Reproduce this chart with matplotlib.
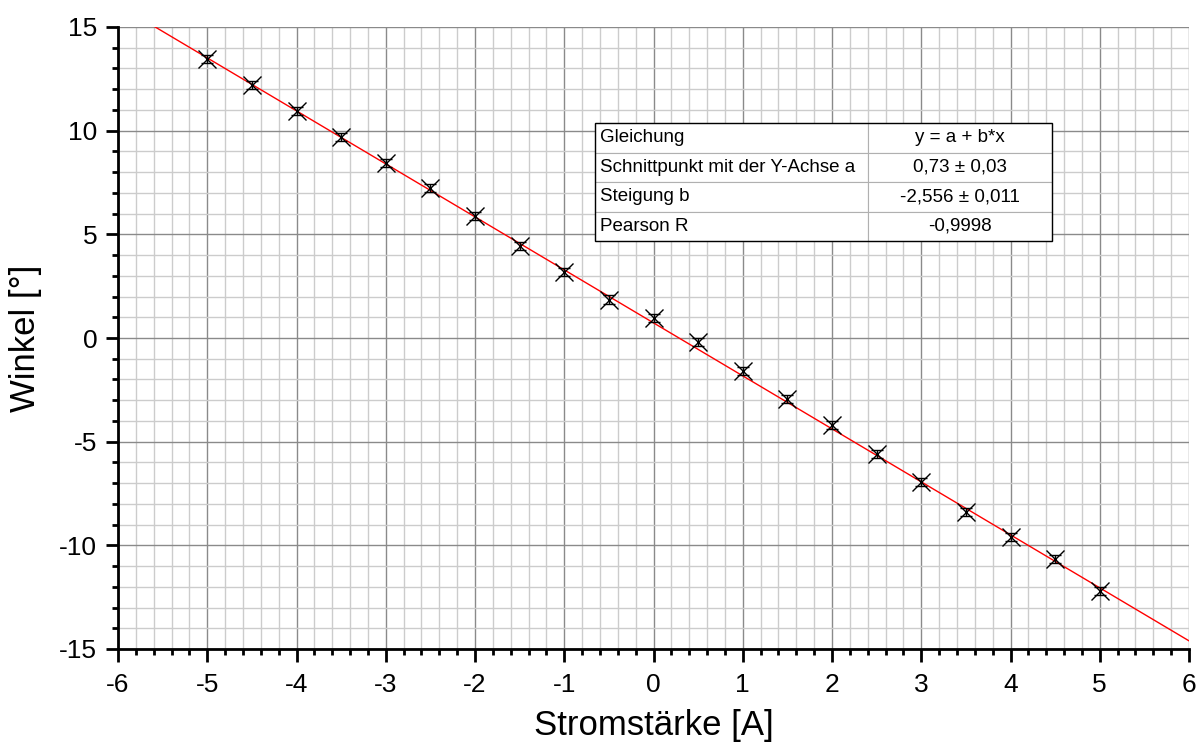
import matplotlib
matplotlib.use("Agg")
import matplotlib.pyplot as plt
import numpy as np
from matplotlib.ticker import MultipleLocator
from matplotlib.patches import Rectangle

plt.rcParams['font.family'] = ['Liberation Sans', 'DejaVu Sans']
plt.rcParams['axes.unicode_minus'] = False

# Data
strom = [-5, -4.5, -4, -3.5, -3, -2.5, -2, -1.5, -1, -0.5, 0,
         0.5, 1, 1.5, 2, 2.5, 3, 3.5, 4, 4.5, 5]
winkel = [13.45, 12.2, 10.95, 9.7, 8.45, 7.25, 5.9, 4.45, 3.2, 1.85, 0.95,
          -0.2, -1.6, -2.95, -4.2, -5.6, -6.95, -8.4, -9.6, -10.65, -12.2]
winkel_err = [0.2] * len(strom)

fit_a = 0.73
fit_b = -2.556
fit_x = [-6, 6]

table_rows = [
    ["Gleichung", "y = a + b*x"],
    ["Schnittpunkt mit der Y-Achse a", "0,73 \u00b1 0,03"],
    ["Steigung b", "-2,556 \u00b1 0,011"],
    ["Pearson R", "-0,9998"],
]

fig = plt.figure(figsize=(11.98, 7.52), dpi=100)
ax = fig.add_axes([118/1198, 103/752, (1189-118)/1198, (649-27)/752])

ax.set_xlim(-6, 6)
ax.set_ylim(-15, 15)

ax.xaxis.set_major_locator(MultipleLocator(1))
ax.xaxis.set_minor_locator(MultipleLocator(0.2))
ax.yaxis.set_major_locator(MultipleLocator(5))
ax.yaxis.set_minor_locator(MultipleLocator(1))

ax.grid(which='minor', color='#cccccc', linewidth=1.0, zorder=0)
ax.grid(which='major', color='#8a8a8a', linewidth=1.0, zorder=0)
ax.set_axisbelow(True)

for s in ['top', 'right']:
    ax.spines[s].set_visible(False)
for s in ['left', 'bottom']:
    ax.spines[s].set_linewidth(2)
    ax.spines[s].set_color('black')

ax.tick_params(which='major', direction='out', length=9, width=2, labelsize=19)
ax.tick_params(axis='x', which='major', pad=8)
ax.tick_params(axis='y', which='major', pad=6)
ax.tick_params(which='minor', direction='out', length=4.5, width=2)

fx = np.array(fit_x, dtype=float)
ax.plot(fx, fit_a + fit_b * fx, color='red', linewidth=1.0, zorder=3)

ax.errorbar(strom, winkel, yerr=winkel_err, fmt='none', ecolor='black',
            elinewidth=1, capsize=4, capthick=1, zorder=4)
ax.plot(strom, winkel, linestyle='none', marker='x', markersize=13,
        markeredgewidth=1.0, color='black', zorder=5)

ax.set_xlabel("Stromstärke [A]", fontsize=25, labelpad=9)
ax.set_ylabel("Winkel [°]", fontsize=25, labelpad=12)

# Fit result table
bx, by = (595-118)/1071, (649-241)/622
bw, bh = (1052-595)/1071, (241-123)/622
tbl = ax.table(cellText=table_rows, cellLoc='center',
               colWidths=[(868-595)/1071, (1052-868)/1071],
               bbox=[bx, by, bw, bh], zorder=6)
tbl.auto_set_font_size(False)
tbl.set_fontsize(13.5)
for (r, c), cell in tbl.get_celld().items():
    cell.set_edgecolor('#b0b0b0')
    cell.set_linewidth(0.8)
    cell.set_facecolor('white')
    if c == 0:
        cell.get_text().set_ha('left')
        cell.PAD = 0.02
        cell._loc = 'left'
ax.add_patch(Rectangle((bx, by), bw, bh, transform=ax.transAxes, fill=False,
                       edgecolor='black', linewidth=1.0, zorder=7, clip_on=False))

fig.savefig("out.png", dpi=100)
